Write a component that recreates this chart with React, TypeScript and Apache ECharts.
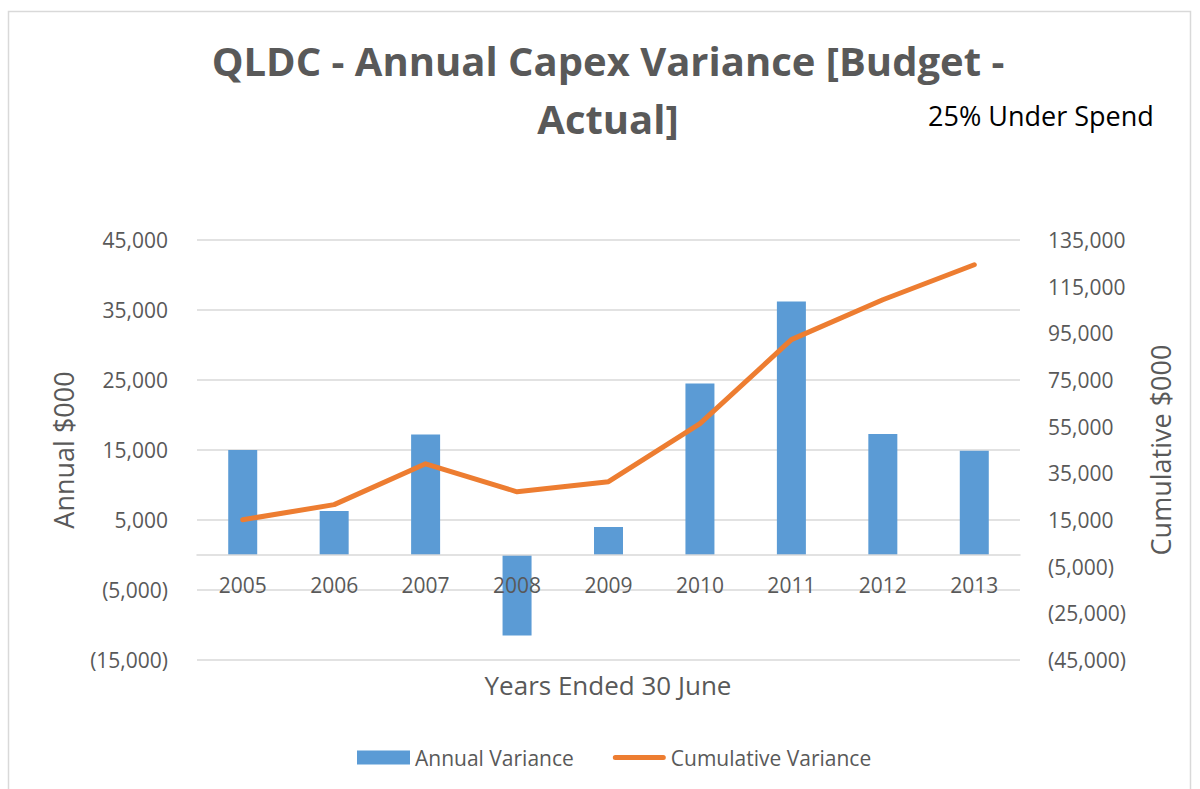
import React, { useEffect, useRef } from "react";
import * as echarts from "echarts";

const years = ["2005", "2006", "2007", "2008", "2009", "2010", "2011", "2012", "2013"];
const annualVariance = [15000, 6300, 17200, -11500, 4000, 24500, 36200, 17300, 14900];
const cumulativeVariance = [15100, 21600, 39100, 27100, 31400, 56300, 92300, 109400, 124400];

const leftMin = -15000;
const leftMax = 45000;
const leftStep = 10000;
const rightMin = -45000;
const rightMax = 135000;
const rightStep = 20000;

const titleText = "QLDC - Annual Capex Variance [Budget -\nActual]";
const noteText = "25% Under Spend";
const xAxisTitle = "Years Ended 30 June";

const FONT = "'Open Sans', 'Noto Sans', sans-serif";
const GREY = "#595959";
const BLUE = "#5B9BD5";
const ORANGE = "#ED7D31";

const lineLegendIcon =
  "path://M0,0L0,0ZM0,14L0,14ZM2.5,4.5L50.5,4.5A2.5,2.5,0,0,1,50.5,9.5L2.5,9.5A2.5,2.5,0,0,1,2.5,4.5Z";

function fmt(v: number): string {
  const s = Math.abs(v).toLocaleString("en-US");
  return v < 0 ? "(" + s + ")" : s;
}

export default function App() {
  const ref = useRef<HTMLDivElement>(null);
  useEffect(() => {
    if (!ref.current) return;
    const chart = echarts.init(ref.current, null, { renderer: "svg" });
    chart.setOption({
      animation: false,
      backgroundColor: "#ffffff",
      textStyle: { fontFamily: FONT },
      title: {
        text: titleText,
        left: 603,
        top: 26,
        textAlign: "center",
        textStyle: {
          fontFamily: FONT,
          fontSize: 40,
          fontWeight: "bold",
          color: GREY,
          lineHeight: 58,
        },
      },
      graphic: [
        {
          type: "rect",
          silent: true,
          shape: { x: 8.5, y: 11.5, width: 1182, height: 800 },
          style: { fill: "none", stroke: "#d9d9d9", lineWidth: 1.5 },
          z: -10,
        },
        {
          type: "text",
          x: 928,
          y: 115,
          style: {
            text: noteText,
            fontFamily: FONT,
            fontSize: 27,
            fill: "#000000",
            verticalAlign: "middle",
          },
        },
        {
          type: "text",
          x: 608,
          y: 685,
          style: {
            text: xAxisTitle,
            fontFamily: FONT,
            fontSize: 26,
            fill: GREY,
            align: "center",
            verticalAlign: "middle",
          },
        },
      ],
      legend: {
        left: 352,
        top: 742,
        itemWidth: 53,
        itemHeight: 14,
        itemGap: 39,
        textStyle: { fontFamily: FONT, fontSize: 21, color: GREY },
        data: [
          { name: "Annual Variance", icon: "rect", itemStyle: { color: BLUE } },
          {
            name: "Cumulative Variance",
            icon: lineLegendIcon,
            itemStyle: { color: ORANGE, borderWidth: 0 },
          },
        ],
      },
      grid: {
        left: 197,
        right: 180,
        top: 240,
        bottom: 129,
        containLabel: false,
        outerBoundsMode: "none",
      },
      xAxis: {
        type: "category",
        data: years,
        z: 5,
        axisLine: { onZero: true, lineStyle: { color: "#d9d9d9", width: 1.5 } },
        axisTick: { show: false },
        axisLabel: { fontFamily: FONT, fontSize: 21, color: GREY, margin: -86 },
      },
      yAxis: [
        {
          type: "value",
          min: leftMin,
          max: leftMax,
          interval: leftStep,
          name: "Annual $000",
          nameLocation: "middle",
          nameRotate: 90,
          nameGap: 120,
          nameTextStyle: { fontFamily: FONT, fontSize: 27, color: GREY },
          axisLine: { show: false },
          axisTick: { show: false },
          axisLabel: { fontFamily: FONT, fontSize: 21, color: GREY, margin: 29, formatter: fmt },
          splitLine: { lineStyle: { color: "#d9d9d9", width: 1.5 } },
        },
        {
          type: "value",
          position: "right",
          min: rightMin,
          max: rightMax,
          interval: rightStep,
          name: "Cumulative $000",
          nameLocation: "middle",
          nameRotate: 90,
          nameGap: 127,
          nameTextStyle: { fontFamily: FONT, fontSize: 27, color: GREY },
          axisLine: { show: false },
          axisTick: { show: false },
          axisLabel: { fontFamily: FONT, fontSize: 21, color: GREY, margin: 28, formatter: fmt },
          splitLine: { show: false },
        },
      ],
      series: [
        {
          name: "Annual Variance",
          type: "bar",
          yAxisIndex: 0,
          data: annualVariance,
          barWidth: 29,
          itemStyle: { color: BLUE },
        },
        {
          name: "Cumulative Variance",
          type: "line",
          yAxisIndex: 1,
          data: cumulativeVariance,
          symbol: "none",
          z: 4,
          lineStyle: { color: ORANGE, width: 5, cap: "round", join: "round" },
          itemStyle: { color: ORANGE },
        },
      ],
    });
    return () => chart.dispose();
  }, []);
  return (
    <div
      ref={ref}
      style={{ position: "fixed", left: 0, top: 0, width: 1200, height: 789 }}
    />
  );
}
